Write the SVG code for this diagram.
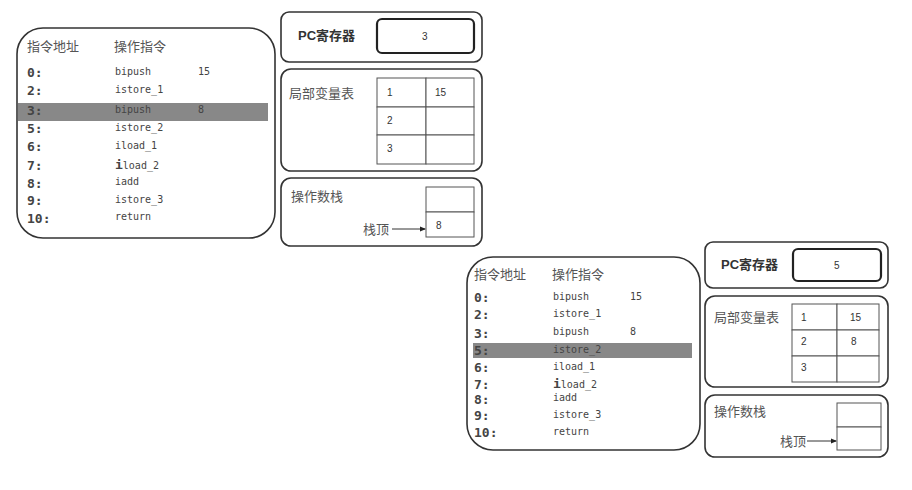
<svg xmlns="http://www.w3.org/2000/svg" width="912" height="490" viewBox="0 0 912 490">
<style>
.bg{fill:#fff}
.big{fill:#fff;stroke:#333;stroke-width:1.6}
.box{fill:#fff;stroke:#333;stroke-width:1.6}
.pcin{fill:#fff;stroke:#222;stroke-width:2.2}
.cell{fill:#fff;stroke:#555;stroke-width:1}
.hl{fill:#888}
.cn{font-family:"Noto Sans CJK SC","Noto Sans",sans-serif;font-size:13px;fill:#555}
.cnb{font-family:"Liberation Sans","Noto Sans CJK SC",sans-serif;font-size:13px;fill:#333;font-weight:bold}
.addr{font-family:"DejaVu Sans Mono",monospace;font-size:13px;fill:#444;font-weight:bold}
.op{font-family:"DejaVu Sans Mono",monospace;font-size:10px;fill:#444}
.num{font-family:"Liberation Sans",sans-serif;font-size:10px;fill:#333}
.arr{stroke:#333;stroke-width:1;fill:none}
</style>
<defs>
<marker id="ah" markerWidth="6" markerHeight="6" refX="5" refY="3" orient="auto" markerUnits="userSpaceOnUse">
<path d="M0,0.5 L6,3 L0,5.5 Z" fill="#222"/>
</marker>
</defs>
<rect class="bg" x="0" y="0" width="912" height="490"/>

<g id="code1">
<rect class="big" x="17" y="28" width="258" height="210" rx="26"/>
<rect class="hl" x="18" y="103" width="250" height="18"/>
<text class="cn" x="27" y="51">指令地址</text>
<text class="cn" x="114" y="51">操作指令</text>
<text class="addr" x="27" y="77">0:</text><text class="op" x="115" y="75">bipush</text><text class="op" x="198" y="75">15</text>
<text class="addr" x="27" y="95">2:</text><text class="op" x="115" y="93">istore_1</text>
<text class="addr" x="27" y="115">3:</text><text class="op" x="115" y="113">bipush</text><text class="op" x="198" y="113">8</text>
<text class="addr" x="27" y="133">5:</text><text class="op" x="115" y="131">istore_2</text>
<text class="addr" x="27" y="151">6:</text><text class="op" x="115" y="149">iload_1</text>
<text class="addr" x="27" y="170">7:</text><text class="op" x="115" y="169"><tspan font-size="13px" font-weight="bold">i</tspan>load_2</text>
<text class="addr" x="27" y="188">8:</text><text class="op" x="115" y="185">iadd</text>
<text class="addr" x="27" y="205">9:</text><text class="op" x="115" y="203">istore_3</text>
<text class="addr" x="27" y="223">10:</text><text class="op" x="115" y="220">return</text>
</g>

<g id="pc1">
<rect class="box" x="281" y="12" width="201" height="50" rx="8"/>
<text class="cnb" x="298" y="40">PC寄存器</text>
<rect class="pcin" x="377" y="19" width="97" height="34" rx="5"/>
<text class="num" x="422" y="40">3</text>
</g>

<g id="locals1">
<rect class="box" x="281" y="69" width="201" height="102" rx="10"/>
<text class="cn" x="289" y="98">局部变量表</text>
<rect class="cell" x="377" y="78" width="49" height="29"/><rect class="cell" x="426" y="78" width="48" height="29"/>
<rect class="cell" x="377" y="107" width="49" height="28"/><rect class="cell" x="426" y="107" width="48" height="28"/>
<rect class="cell" x="377" y="135" width="49" height="29"/><rect class="cell" x="426" y="135" width="48" height="29"/>
<text class="num" x="387" y="96">1</text><text class="num" x="435" y="96">15</text>
<text class="num" x="387" y="124">2</text>
<text class="num" x="387" y="152">3</text>
</g>

<g id="stack1">
<rect class="box" x="281" y="178" width="201" height="68" rx="10"/>
<text class="cn" x="291" y="201">操作数栈</text>
<rect class="cell" x="426" y="187" width="48" height="25"/>
<rect class="cell" x="426" y="212" width="48" height="25"/>
<text class="cn" x="363" y="234">栈顶</text>
<text class="num" x="436" y="229">8</text>
</g>

<g id="code2">
<rect class="big" x="467" y="257" width="233" height="193" rx="26"/>
<rect class="hl" x="473" y="343" width="219" height="15"/>
<text class="cn" x="474" y="279">指令地址</text>
<text class="cn" x="552" y="279">操作指令</text>
<text class="addr" x="474" y="302">0:</text><text class="op" x="553" y="300">bipush</text><text class="op" x="630" y="300">15</text>
<text class="addr" x="474" y="319">2:</text><text class="op" x="553" y="317">istore_1</text>
<text class="addr" x="474" y="338">3:</text><text class="op" x="553" y="335">bipush</text><text class="op" x="630" y="335">8</text>
<text class="addr" x="474" y="355">5:</text><text class="op" x="553" y="353">istore_2</text>
<text class="addr" x="474" y="372">6:</text><text class="op" x="553" y="370">iload_1</text>
<text class="addr" x="474" y="389">7:</text><text class="op" x="553" y="388"><tspan font-size="13px" font-weight="bold">i</tspan>load_2</text>
<text class="addr" x="474" y="404">8:</text><text class="op" x="553" y="401">iadd</text>
<text class="addr" x="474" y="420">9:</text><text class="op" x="553" y="418">istore_3</text>
<text class="addr" x="474" y="437">10:</text><text class="op" x="553" y="435">return</text>
</g>

<g id="pc2">
<rect class="box" x="705" y="242" width="183" height="46" rx="8"/>
<text class="cnb" x="721" y="269">PC寄存器</text>
<rect class="pcin" x="793" y="249" width="88" height="32" rx="5"/>
<text class="num" x="834" y="269">5</text>
</g>

<g id="locals2">
<rect class="box" x="705" y="296" width="183" height="91" rx="10"/>
<text class="cn" x="714" y="322">局部变量表</text>
<rect class="cell" x="792" y="304" width="45" height="26"/><rect class="cell" x="837" y="304" width="42" height="26"/>
<rect class="cell" x="792" y="330" width="45" height="26"/><rect class="cell" x="837" y="330" width="42" height="26"/>
<rect class="cell" x="792" y="356" width="45" height="26"/><rect class="cell" x="837" y="356" width="42" height="26"/>
<text class="num" x="801" y="321">1</text><text class="num" x="850" y="321">15</text>
<text class="num" x="801" y="345">2</text><text class="num" x="851" y="345">8</text>
<text class="num" x="801" y="371">3</text>
</g>

<g id="stack2">
<rect class="box" x="705" y="395" width="183" height="62" rx="10"/>
<text class="cn" x="714" y="416">操作数栈</text>
<rect class="cell" x="837" y="403" width="44" height="24"/>
<rect class="cell" x="837" y="427" width="44" height="23"/>
<text class="cn" x="780" y="446">栈顶</text>
</g>

<g id="connectors">
<line class="arr" x1="392" y1="229" x2="425" y2="229" marker-end="url(#ah)"/>
<line class="arr" x1="807" y1="441" x2="836" y2="441" marker-end="url(#ah)"/>
</g>
</svg>
